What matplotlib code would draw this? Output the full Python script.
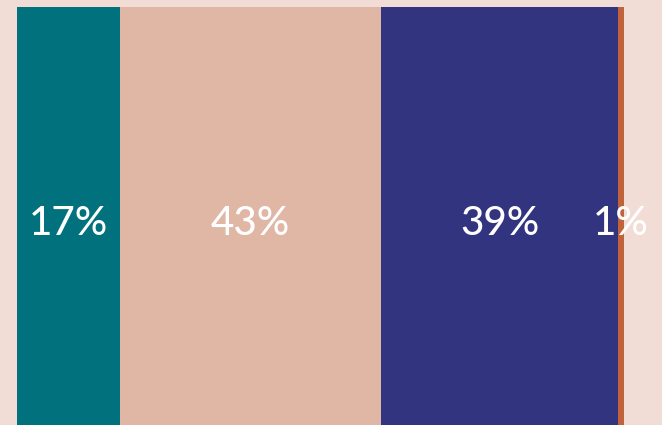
import numpy as np
import matplotlib.pyplot as plt

# Share of respondents per group
labels = ["17%", "43%", "39%", "1%"]
values = [17, 43, 39, 1]
colors = ["#01717e", "#e0b6a5", "#333480", "#c0623a"]
bg = "#f2ddd6"

fig = plt.figure(figsize=(6.62, 4.25), dpi=100, facecolor=bg)
ax = fig.add_axes([17 / 662, 0, 607 / 662, 418 / 425])
ax.set_facecolor(bg)

left = np.concatenate([[0], np.cumsum(values)[:-1]])
ax.barh([-1], values, left=left, height=2.0, color=colors, align="edge")

for lab, l, v in zip(labels, left, values):
    ax.text(l + v / 2, 0.483, lab, ha="center", va="center",
            color="white", fontsize=29, family="Lato", weight="medium")

ax.set_xlim(0, 100)
ax.set_ylim(0, 1.0)
ax.axis("off")

plt.savefig("out.png", facecolor=bg)
